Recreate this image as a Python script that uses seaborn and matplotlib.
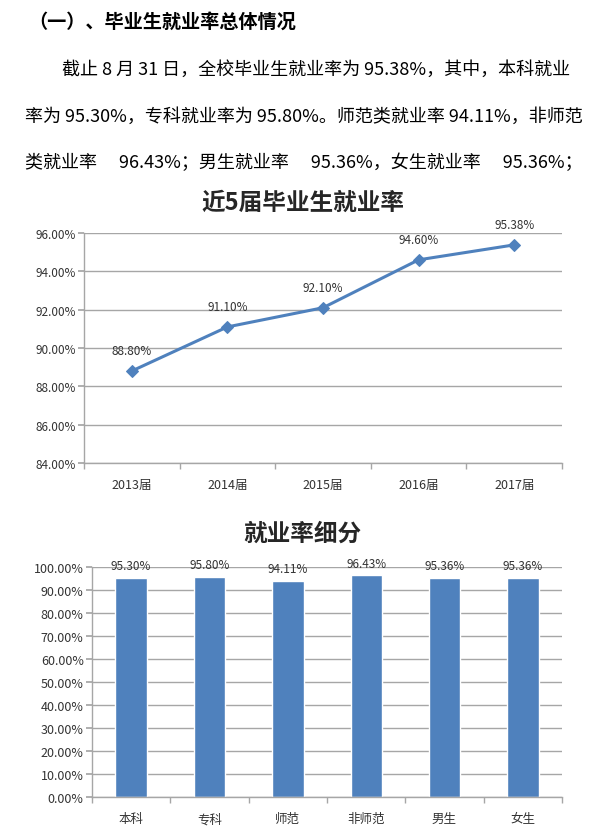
import numpy as np
import pandas as pd
import seaborn as sns
import matplotlib.pyplot as plt
from matplotlib.ticker import FuncFormatter, FixedLocator

# data
years = ['2013届', '2014届', '2015届', '2016届', '2017届']
year_rates = [88.80, 91.10, 92.10, 94.60, 95.38]

groups = ['本科', '专科', '师范', '非师范', '男生', '女生']
group_rates = [95.30, 95.80, 94.11, 96.43, 95.36, 95.36]

heading = '（一）、毕业生就业率总体情况'
para_lines = [
    '截止 8 月 31 日，全校毕业生就业率为 95.38%，其中，本科就业',
    '率为 95.30%，专科就业率为 95.80%。师范类就业率 94.11%，非师范',
    '类就业率\u3000 96.43%；男生就业率\u3000 95.36%，女生就业率\u3000 95.36%；',
]
title1 = '近5届毕业生就业率'
title2 = '就业率细分'

sns.set_theme(style='white')
plt.rcParams['font.family'] = ['Noto Sans CJK SC', 'DejaVu Sans']

blue = '#4F81BD'
grid_c = '#A6A6A6'
tick_c = '#333333'

fig = plt.figure(figsize=(6.05, 8.37), dpi=100)

# text block
fig.text(28 / 605, 1 - 22 / 837, heading, fontsize=13.8, fontweight='bold',
         ha='left', va='center', color='black')
starts = [62, 25, 25]
ys = [70, 117, 163]
for line, x0, y0 in zip(para_lines, starts, ys):
    fig.text(x0 / 605, 1 - y0 / 837, line, fontsize=13, ha='left', va='center', color='black')


def pct_fmt(v, pos):
    return '%.2f%%' % v


def style_axes(ax, ysize):
    for s in ['top', 'right']:
        ax.spines[s].set_visible(False)
    for s in ['left', 'bottom']:
        ax.spines[s].set_color(grid_c)
        ax.spines[s].set_linewidth(1)
    ax.yaxis.grid(True, color=grid_c, linewidth=1)
    ax.set_axisbelow(True)
    ax.tick_params(axis='y', which='major', left=True, length=4, color=grid_c,
                   labelsize=ysize, labelcolor=tick_c, pad=2)
    ax.tick_params(axis='x', which='major', bottom=False, labelsize=9, labelcolor=tick_c, pad=5)
    ax.tick_params(axis='x', which='minor', bottom=True, length=4, color=grid_c)
    ax.set_xlabel('')
    ax.set_ylabel('')


# line chart
ax1 = fig.add_axes([84 / 605, 1 - 464 / 837, 478 / 605, 230 / 837])
df1 = pd.DataFrame({'year': years, 'rate': year_rates})
sns.lineplot(data=df1, x='year', y='rate', ax=ax1, color=blue, linewidth=2.2,
             marker='D', markersize=6, markeredgecolor=blue, sort=False)
ax1.set_xlim(-0.5, len(years) - 0.5)
ax1.set_ylim(84, 96)
ax1.set_yticks(np.arange(84, 96.1, 2))
ax1.yaxis.set_major_formatter(FuncFormatter(pct_fmt))
ax1.xaxis.set_minor_locator(FixedLocator(np.arange(-0.5, len(years), 1)))
style_axes(ax1, 8.5)
for i, v in enumerate(year_rates):
    ax1.annotate('%.2f%%' % v, (i, v), xytext=(0, 10), textcoords='offset points',
                 ha='center', va='bottom', fontsize=8.5, color=tick_c)
fig.text(0.5, 1 - 203 / 837, title1, fontsize=17, fontweight='bold', ha='center', va='center')

# bar chart
ax2 = fig.add_axes([92 / 605, 1 - 798 / 837, 470 / 605, 230 / 837])
df2 = pd.DataFrame({'group': groups, 'rate': group_rates})
sns.barplot(data=df2, x='group', y='rate', ax=ax2, color=blue, width=0.4, saturation=1)
ax2.set_xlim(-0.5, len(groups) - 0.5)
ax2.set_ylim(0, 100)
ax2.set_yticks(np.arange(0, 100.1, 10))
ax2.yaxis.set_major_formatter(FuncFormatter(pct_fmt))
ax2.xaxis.set_minor_locator(FixedLocator(np.arange(-0.5, len(groups), 1)))
style_axes(ax2, 9)
for c in ax2.containers:
    ax2.bar_label(c, labels=['%.2f%%' % v for v in group_rates], padding=4,
                  fontsize=8.5, color=tick_c)
fig.text(0.5, 1 - 534 / 837, title2, fontsize=17, fontweight='bold', ha='center', va='center')

fig.savefig('out.png', dpi=100)
